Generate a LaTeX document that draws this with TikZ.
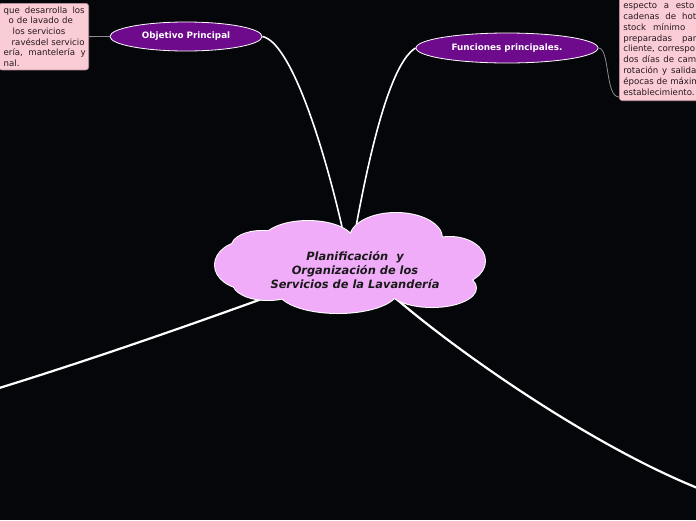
\documentclass[tikz,border=0pt]{standalone}
\usepackage{fontspec}
\setmainfont{DejaVu Sans}
\usetikzlibrary{shapes.geometric}
\definecolor{Bgfill}{RGB}{5,6,9}
\definecolor{Cfill}{RGB}{241,172,249}
\definecolor{Pfill}{RGB}{110,10,140}
\definecolor{Nfill}{RGB}{249,204,214}
\definecolor{Nline}{RGB}{185,145,155}
\definecolor{Ntext}{RGB}{40,22,30}
\definecolor{Lgrey}{RGB}{140,140,140}
\pgfdeclarelayer{back}
\pgfdeclarelayer{links}
\pgfsetlayers{back,links,main}

\begin{document}
\begin{tikzpicture}[x=1pt,y=-1pt,line cap=round,line join=round,
  oval/.style={ellipse,draw=white,line width=0.8pt,fill=Pfill,text=white,inner sep=0pt,font=\bfseries\fontsize{8.8}{10}\selectfont},
  notebox/.style={rectangle,rounded corners=3pt,draw=Nline,line width=0.6pt,fill=Nfill,text=Ntext,align=left},
  branch/.style={draw=white,line width=2.2pt},
  twig/.style={draw=Lgrey,line width=0.8pt}]
\path[use as bounding box] (0,0) rectangle (696,520);
\begin{pgfonlayer}{back}
\fill[Bgfill] (0,0) rectangle (696,520);
\end{pgfonlayer}
% central idea: a cloud made of lobes
\node[ellipse,minimum width=270pt,minimum height=100pt,inner sep=0pt] (main) at (350,263) {};
\foreach \cx/\cy/\rx/\ry in {248/265/33/24,262/246/30/15,308/242/46/21,396/238/46/25,450/261/35/24,432/288/44/19,338/290/60/23,268/283/35/17,350/264/100/30}
  \draw[white,line width=2pt] (\cx,\cy) ellipse [x radius=\rx pt,y radius=\ry pt];
\foreach \cx/\cy/\rx/\ry in {248/265/33/24,262/246/30/15,308/242/46/21,396/238/46/25,450/261/35/24,432/288/44/19,338/290/60/23,268/283/35/17,350/264/100/30}
  \fill[Cfill] (\cx,\cy) ellipse [x radius=\rx pt,y radius=\ry pt];
\node[align=center,text=black!90,font=\bfseries\itshape\fontsize{11.4}{14}\selectfont] (maintext) at (355,270) {Planificación\ \ y\\Organización de los\\Servicios de la Lavandería};
% main topics
\node[oval,minimum width=152pt,minimum height=29pt] (objetivo) at (186,36.5) {Objetivo Principal};
\node[oval,minimum width=182pt,minimum height=30pt] (funciones) at (507,48) {Funciones principales.};
% notes
\node[notebox,anchor=north east,text width=86pt,inner xsep=2pt,inner ysep=3.5pt,font=\fontsize{8.6}{10.6}\selectfont] (objbox) at (89,3) {%
\hspace*{3pt}\makebox[81pt][l]{que\hfill desarrolla\hfill los}\\
\hspace*{8pt}o de lavado de\\
\hspace*{12pt}los servicios\\
\hspace*{11pt}ravésdel servicio\\
\hspace*{3pt}\makebox[82pt][l]{ería,\hfill mantelería\hfill y}\\
\hspace*{3pt}nal.};
\node[notebox,anchor=south west,text width=90pt,inner xsep=4pt,inner ysep=5pt,font=\fontsize{8.6}{10.9}\selectfont] (funbox) at (619,101) {%
\makebox[71pt][l]{especto\hfill a\hfill esto}\\
\makebox[73pt][l]{cadenas\hfill de\hfill hot}\\
\makebox[62pt][l]{stock\hfill mínimo}\\
\makebox[73pt][l]{preparadas\hfill par}\\
cliente, correspo\\
\makebox[73pt][l]{dos\hfill días\hfill de\hfill cam}\\
\makebox[73pt][l]{rotación\hfill y\hfill salida}\\
épocas de máxim\\
establecimiento.};
% branches to the frame edge
\coordinate (farleft) at (-4,389);
\coordinate (farright) at (700,489);
\begin{pgfonlayer}{links}
\draw[branch,line width=1.6pt] (objetivo.east) .. controls (290,42) and (322,140) .. ([shift={(-8,14)}]main.north);
\draw[branch,line width=1.6pt] ([shift={(6,14)}]main.north) .. controls (372,140) and (392,62) .. (funciones.west);
\draw[branch] ([shift={(-80,33)}]main.center) .. controls (190,325) and (90,360) .. (farleft);
\draw[branch] ([shift={(43,33)}]main.center) .. controls (455,350) and (590,445) .. (farright);
\draw[twig] (objbox.east) -- (objetivo.west);
\draw[twig] (funciones.east) .. controls (610,48) and (605,97) .. ([yshift=4pt]funbox.south west);
\end{pgfonlayer}
\end{tikzpicture}
\end{document}
